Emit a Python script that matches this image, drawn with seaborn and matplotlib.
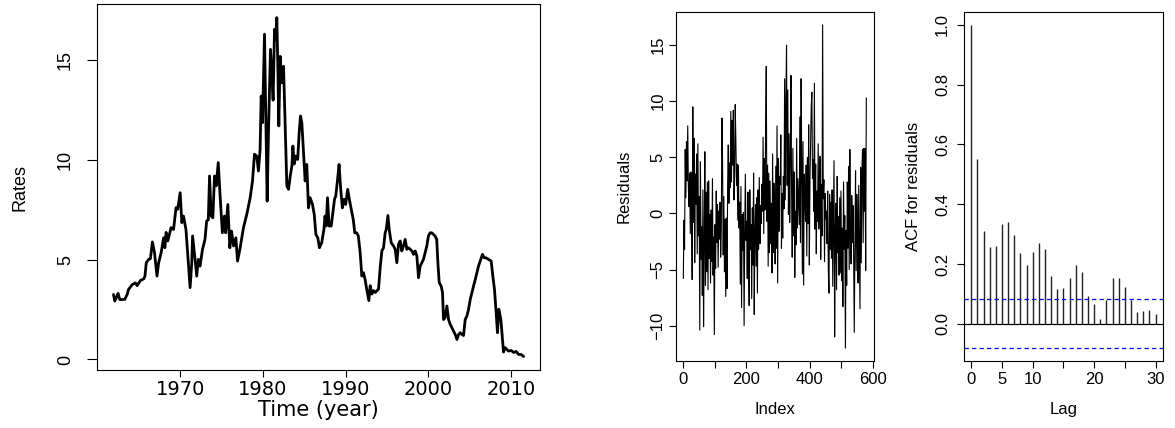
import numpy as np
import pandas as pd
import seaborn as sns
import matplotlib.pyplot as plt

# monthly rates (year, percent)
rate_years = [
    1961.94, 1962.10, 1962.50, 1962.70, 1963.30, 1963.60, 1963.75, 1964.20, 1964.60, 1964.80,
    1965.20, 1965.60, 1965.75, 1965.90, 1966.20, 1966.40, 1966.65, 1966.90, 1967.20, 1967.40,
    1967.70, 1968.00, 1968.15, 1968.30, 1968.50, 1968.90, 1969.20, 1969.50, 1969.70, 1970.00,
    1970.20, 1970.40, 1970.70, 1970.90, 1971.20, 1971.40, 1971.50, 1971.80, 1972.00, 1972.20,
    1972.40, 1972.70, 1973.00, 1973.20, 1973.40, 1973.55, 1973.75, 1973.95, 1974.15, 1974.35,
    1974.60, 1974.85, 1975.10, 1975.35, 1975.50, 1975.76, 1976.00, 1976.20, 1976.45, 1976.73,
    1976.93, 1977.25, 1977.65, 1978.05, 1978.46, 1978.74, 1978.98, 1979.25, 1979.46, 1979.66,
    1979.79, 1979.95, 1980.19, 1980.35, 1980.51, 1980.67, 1980.91, 1981.07, 1981.23, 1981.40,
    1981.55, 1981.68, 1981.80, 1981.92, 1982.08, 1982.28, 1982.49, 1982.60, 1982.77, 1982.89,
    1983.10, 1983.30, 1983.50, 1983.62, 1983.78, 1983.98, 1984.20, 1984.38, 1984.54, 1984.70,
    1984.90, 1985.10, 1985.30, 1985.50, 1985.70, 1985.99, 1986.20, 1986.40, 1986.63, 1986.83,
    1987.10, 1987.37, 1987.50, 1987.65, 1987.80, 1988.00, 1988.25, 1988.45, 1988.65, 1988.80,
    1989.00, 1989.20, 1989.40, 1989.60, 1989.80, 1990.00, 1990.24, 1990.44, 1990.64, 1990.92,
    1991.10, 1991.33, 1991.53, 1991.75, 1991.95, 1992.15, 1992.36, 1992.56, 1992.80, 1992.96,
    1993.16, 1993.36, 1993.56, 1993.77, 1993.97, 1994.17, 1994.37, 1994.57, 1994.77, 1994.90,
    1995.10, 1995.26, 1995.50, 1995.78, 1995.98, 1996.18, 1996.38, 1996.58, 1996.78, 1996.98,
    1997.19, 1997.39, 1997.59, 1997.80, 1998.00, 1998.20, 1998.40, 1998.60, 1998.80, 1999.00,
    1999.20, 1999.40, 1999.60, 1999.80, 2000.00, 2000.20, 2000.40, 2000.60, 2000.80, 2001.00,
    2001.14, 2001.30, 2001.54, 2001.70, 2001.82, 2002.00, 2002.23, 2002.43, 2002.63, 2002.83,
    2003.03, 2003.24, 2003.44, 2003.64, 2003.84, 2004.04, 2004.24, 2004.44, 2004.64, 2004.84,
    2005.05, 2005.25, 2005.45, 2005.65, 2005.85, 2006.05, 2006.25, 2006.53, 2006.73, 2006.93,
    2007.25, 2007.58, 2007.78, 2007.98, 2008.18, 2008.34, 2008.50, 2008.75, 2008.95, 2009.07,
    2009.27, 2009.67, 2010.00, 2010.30, 2010.60, 2010.90, 2011.20, 2011.50]
rates = [
    3.26, 2.93, 3.31, 3.00, 3.01, 3.26, 3.50, 3.75, 3.84, 3.70,
    3.96, 4.04, 4.18, 4.85, 5.02, 5.05, 5.89, 5.35, 4.18, 4.85,
    5.35, 6.10, 5.60, 6.37, 5.94, 6.61, 6.52, 7.61, 7.53, 8.36,
    6.86, 7.19, 6.52, 5.35, 3.60, 4.85, 6.19, 5.02, 4.18, 5.02,
    4.68, 5.52, 6.02, 6.94, 7.00, 9.20, 7.19, 7.10, 9.20, 8.70,
    9.87, 8.03, 6.35, 7.19, 6.35, 7.77, 5.60, 6.44, 5.69, 6.10,
    4.93, 5.60, 6.61, 7.28, 8.11, 8.95, 10.29, 10.20, 9.45, 10.53,
    13.21, 11.87, 16.31, 12.20, 7.94, 11.37, 15.55, 14.40, 13.00, 16.56,
    16.05, 17.14, 14.70, 11.71, 15.20, 13.87, 14.70, 13.04, 10.53, 8.70,
    8.53, 9.20, 9.70, 10.70, 9.80, 10.20, 10.03, 11.37, 12.21, 11.87,
    10.36, 8.95, 9.78, 7.60, 8.11, 7.77, 7.27, 6.27, 6.10, 5.60,
    5.85, 6.52, 7.19, 6.69, 8.11, 6.69, 6.69, 7.36, 8.03, 8.20,
    8.95, 9.78, 8.53, 7.60, 8.03, 7.77, 8.53, 8.03, 7.60, 7.00,
    6.35, 6.35, 6.19, 5.35, 4.18, 4.35, 3.98, 3.47, 2.95, 3.70,
    3.28, 3.45, 3.36, 3.45, 3.53, 4.62, 5.44, 5.60, 6.35, 6.52,
    7.22, 6.52, 5.85, 5.69, 5.52, 4.85, 5.77, 5.94, 5.44, 5.69,
    6.02, 5.52, 5.60, 5.52, 5.44, 5.27, 5.44, 5.19, 4.10, 4.68,
    4.85, 5.02, 5.35, 5.69, 6.19, 6.35, 6.35, 6.27, 6.19, 6.02,
    4.85, 3.85, 3.68, 3.35, 2.00, 2.09, 2.68, 2.00, 1.76, 1.59,
    1.42, 1.25, 1.00, 1.25, 1.34, 1.25, 1.20, 2.00, 2.17, 2.50,
    3.01, 3.35, 3.68, 4.00, 4.35, 4.68, 4.93, 5.27, 5.10, 5.10,
    5.02, 4.93, 4.18, 3.51, 2.35, 1.34, 2.52, 2.00, 1.00, 0.37,
    0.59, 0.42, 0.45, 0.35, 0.40, 0.25, 0.25, 0.15]

resid_index = list(range(1, 580, 2))
residuals = [
    -5.8, -0.6, -3.2, 5.7, 1.4, 6.4, 2.9, 7.8, 2.2, 0.6,
    3.6, -1.8, 3.7, 0.5, -5.9, 9.5, -0.8, 6.7, -4.4, 3.5,
    0.8, 5.3, -3.6, 6.2, -2.0, 1.5, -10.4, 4.6, -4.1, -1.2,
    -7.3, 2.1, -10.1, -3.0, 5.5, -6.4, 1.9, -5.2, 2.8, -6.8,
    2.9, -4.0, -0.1, -6.2, 0.3, -4.3, 3.1, -5.5, -2.1, -10.8,
    -1.0, -4.9, 2.0, -2.6, 0.8, -4.8, 0.2, -2.3, 1.0, -3.9,
    -1.3, 8.5, 4.5, -3.7, 1.5, -5.2, -0.5, -7.4, -0.4, -6.7,
    2.6, 6.1, 0.9, 4.5, 2.3, 9.1, 2.8, 8.3, 4.3, 9.2,
    1.2, 3.3, 9.7, 6.4, 2.5, 4.4, -0.6, 4.3, -1.3, 1.0,
    -6.3, 2.4, -8.4, -0.1, -3.3, 0.1, -10.0, -1.6, 3.5, -2.4,
    -0.7, -5.8, 1.9, -3.9, -8.2, 2.1, -3.2, -1.0, -7.6, 0.5,
    -4.6, 3.6, -9.0, -1.7, 0.8, -4.7, 1.4, -7.1, 2.1, -3.2,
    3.2, -2.7, 0.7, -0.9, 2.6, 0.2, 6.8, -1.8, 4.9, 0.3,
    7.8, 13.1, -0.7, 4.3, -4.7, 3.6, -3.5, 2.9, -2.7, 0.9,
    -5.3, 5.3, -3.5, 2.7, 0.2, -4.5, 4.2, -3.1, 7.8, -6.2,
    4.9, -1.6, 3.3, 2.6, 7.0, -3.1, 1.8, -2.2, 3.3, 0.4,
    12.0, 1.2, 9.8, 15.0, 2.5, 11.0, -0.1, 7.1, -0.8, 4.5,
    12.3, 1.9, -3.9, 5.8, -2.0, 3.7, -5.7, 0.2, -2.8, 6.7,
    -1.3, 3.1, 1.2, -1.0, 8.6, -2.6, 12.0, 4.6, -5.4, 6.4,
    -6.4, 3.5, 1.6, -0.7, 4.3, -3.8, 5.0, -0.9, 7.9, -4.6,
    2.9, 6.0, 9.5, 10.8, 3.1, 4.8, 0.2, 11.6, -1.4, 4.4,
    -3.6, 2.0, -0.7, 6.2, -1.4, 0.6, 5.1, -4.1, 2.6, -2.0,
    16.8, 1.3, 3.0, -4.3, 1.8, -0.5, 0.2, -2.7, 2.0, -5.0,
    -7.1, 1.7, -3.2, 1.0, -4.0, 2.1, -6.5, -1.2, 4.7, -11.0,
    -1.6, 0.9, -6.8, 3.3, -3.5, -0.3, -5.5, 1.4, -5.3, 2.0,
    -6.0, -1.3, -8.3, 2.8, -3.2, -0.2, -12.0, -1.5, -6.4, 2.8,
    -3.1, 4.2, -5.0, 5.7, -2.2, -4.5, 1.6, -2.6, 0.7, -4.0,
    -10.6, -2.6, 3.8, -5.1, 1.7, -1.0, -6.2, 2.5, -2.9, -8.5,
    4.1, -4.4, 3.7, 5.7, -2.6, 5.8, 0.2, 5.8, -5.1, 10.3]

# sample autocorrelation of the residuals
acf_lags = list(range(31))
acf_values = [1.000, 0.551, 0.310, 0.258, 0.259, 0.334, 0.340, 0.296, 0.237, 0.196,
              0.239, 0.271, 0.249, 0.160, 0.116, 0.119, 0.154, 0.196, 0.172, 0.093,
              0.066, 0.017, 0.078, 0.154, 0.154, 0.122, 0.078, 0.040, 0.042, 0.047,
              0.034]
conf_bound = 0.0814


def rlim(lo, hi):
    # R style 4% padding
    d = (hi - lo) * 0.04
    return lo - d, hi + d


sns.set_style('ticks')
plt.rcParams['font.family'] = ['Liberation Sans', 'DejaVu Sans']
plt.rcParams['axes.linewidth'] = 0.8
plt.rcParams['axes.edgecolor'] = 'black'
plt.rcParams['axes.labelcolor'] = 'black'
plt.rcParams['text.color'] = 'black'
plt.rcParams['xtick.color'] = 'black'
plt.rcParams['ytick.color'] = 'black'
plt.rcParams['xtick.labelcolor'] = 'black'
plt.rcParams['ytick.labelcolor'] = 'black'

fig = plt.figure(figsize=(11.75, 4.28), dpi=100)
ax1 = fig.add_axes([0.0826, 0.1355, 0.377, 0.855])
ax2 = fig.add_axes([0.5753, 0.1565, 0.1685, 0.8155])
ax3 = fig.add_axes([0.8204, 0.1565, 0.1694, 0.8155])

# ---- left: rates over time
df_rates = pd.DataFrame({'year': rate_years, 'rate': rates})
sns.lineplot(data=df_rates, x='year', y='rate', ax=ax1, color='black',
             linewidth=2.0, estimator=None, sort=False)
ax1.set_xlim(*rlim(min(rate_years), max(rate_years)))
ax1.set_ylim(*rlim(min(rates), max(rates)))
ax1.set_xticks([1970, 1980, 1990, 2000, 2010])
ax1.set_xticklabels(['1970', '1980', '1990', '2000', '2010'],
                    family='DejaVu Sans', fontsize=14)
ax1.set_yticks([0, 5, 10, 15])
ax1.set_yticklabels(['0', '5', '10', '15'], rotation=90, va='center', ha='center', fontsize=13)
ax1.tick_params(axis='y', length=7.2, width=0.8, pad=15.5)
ax1.tick_params(axis='x', length=5, width=0.8, pad=2)
ax1.set_xlabel('Time (year)', family='DejaVu Sans', fontsize=15)
ax1.set_ylabel('Rates', fontsize=13)
ax1.xaxis.set_label_coords(0.5, -0.109)
ax1.xaxis.label.set_va('center')
ax1.yaxis.set_label_coords(-0.174, 0.5)
ax1.yaxis.label.set_va('center')

# ---- middle: residuals
df_res = pd.DataFrame({'idx': resid_index, 'res': residuals})
sns.lineplot(data=df_res, x='idx', y='res', ax=ax2, color='black',
             linewidth=0.8, estimator=None, sort=False)
ax2.set_xlim(*rlim(1, 580))
ax2.set_ylim(*rlim(min(residuals), max(residuals)))
ax2.set_xticks([0, 100, 200, 300, 400, 500, 600])
ax2.set_xticklabels(['0', '', '200', '', '400', '', '600'], fontsize=12)
ax2.set_yticks([-10, -5, 0, 5, 10, 15])
ax2.set_yticklabels(['\u221210', '\u22125', '0', '5', '10', '15'],
                    rotation=90, va='center', ha='center', fontsize=12)
ax2.tick_params(axis='both', length=5, width=0.8)
ax2.tick_params(axis='y', pad=8)
ax2.tick_params(axis='x', pad=3)
ax2.set_xlabel('Index', fontsize=12)
ax2.set_ylabel('Residuals', fontsize=12)
ax2.xaxis.set_label_coords(0.5, -0.14)
ax2.xaxis.label.set_va('center')
ax2.yaxis.set_label_coords(-0.263, 0.5)
ax2.yaxis.label.set_va('center')

# ---- right: ACF of residuals
ax3.vlines(acf_lags, 0, acf_values, color='#222222', linewidth=1.0)
ax3.axhline(0, color='black', linewidth=0.9)
ax3.axhline(conf_bound, color='blue', linewidth=0.9, dashes=(3.5, 2.5))
ax3.axhline(-conf_bound, color='blue', linewidth=0.9, dashes=(3.5, 2.5))
ax3.set_xlim(*rlim(0, 30))
ax3.set_ylim(*rlim(-conf_bound, max(acf_values)))
ax3.set_xticks([0, 5, 10, 15, 20, 25, 30])
ax3.set_xticklabels(['0', '5', '10', '', '20', '', '30'], fontsize=12)
ax3.set_yticks([0.0, 0.2, 0.4, 0.6, 0.8, 1.0])
ax3.set_yticklabels(['0.0', '0.2', '0.4', '0.6', '0.8', '1.0'],
                    rotation=90, va='center', ha='center', fontsize=12)
ax3.tick_params(axis='both', length=5, width=0.8)
ax3.tick_params(axis='y', pad=10.5)
ax3.tick_params(axis='x', pad=3)
ax3.set_xlabel('Lag', fontsize=12)
ax3.set_ylabel('ACF for residuals', fontsize=12)
ax3.xaxis.set_label_coords(0.5, -0.14)
ax3.xaxis.label.set_va('center')
ax3.yaxis.set_label_coords(-0.256, 0.5)
ax3.yaxis.label.set_va('center')

for ax in (ax1, ax2, ax3):
    for s in ax.spines.values():
        s.set_visible(True)
        s.set_linewidth(0.8)

fig.savefig('out.png', dpi=100)
